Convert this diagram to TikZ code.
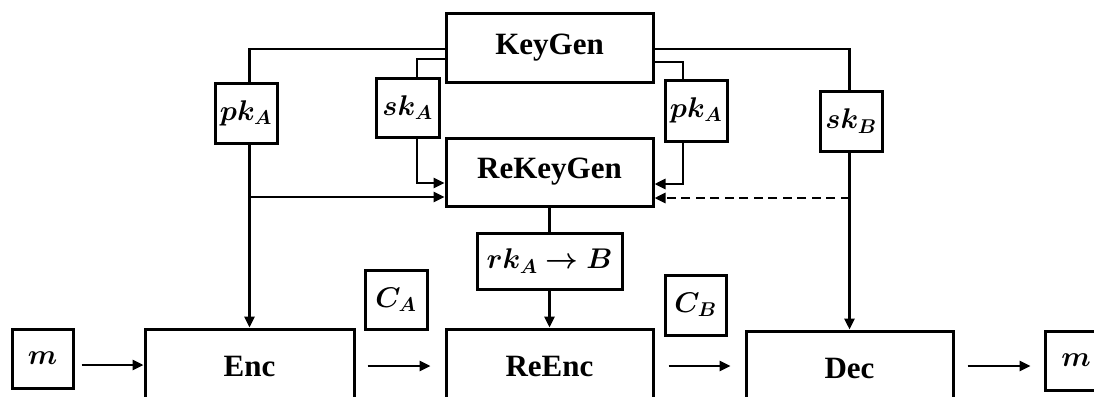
\documentclass[tikz,border=0pt]{standalone}
\usepackage{fix-cm}
\usepackage{bm}
\usepackage{fontspec}
\setmainfont{Liberation Serif}
\usetikzlibrary{arrows.meta}

\begin{document}
\begin{tikzpicture}[x=1pt,y=-1pt,
  box/.style={draw, line width=3pt, inner sep=0pt, fill=white},
  lbl/.style={font=\fontsize{31}{35}\selectfont\bfseries},
  key/.style={box, font=\fontsize{28.5}{32}\selectfont},
  wire/.style={line width=2.6pt},
  arr/.style={wire, -{Triangle[length=11pt,width=10pt]}},
  dashwire/.style={dash pattern=on 9pt off 5.5pt},
]
\useasboundingbox (0,0) rectangle (1094,396);
\clip (0,0) rectangle (1094,396);

% key generation blocks
\node[box,lbl,minimum width=207pt,minimum height=68pt] (kg)  at (549.5,48)  {KeyGen};
\node[box,lbl,minimum width=207pt,minimum height=68pt] (rkg) at (549.5,172) {ReKeyGen};

% key labels
\node[key,minimum width=62pt,minimum height=60pt] (pka)  at (246,113)    {$\bm{pk_A}$};
\node[key,minimum width=63pt,minimum height=59pt] (ska)  at (407.5,107.5) {$\bm{sk_A}$};
\node[key,minimum width=62pt,minimum height=61pt] (pka2) at (696,110.5)  {$\bm{pk_A}$};
\node[key,minimum width=62pt,minimum height=60pt] (skb)  at (851,121)    {$\bm{sk_B}$};
\node[key,minimum width=145pt,minimum height=56pt] (rk)  at (549.5,261)  {$\bm{rk_A\rightarrow B}$};

% ciphertext labels
\node[key,minimum width=62pt,minimum height=59pt] (ca) at (396,299.5) {$\bm{C_A}$};
\node[key,minimum width=61pt,minimum height=60pt] (cb) at (695.5,305) {$\bm{C_B}$};

% encryption pipeline
\node[box,lbl,minimum width=209pt,minimum height=75pt] (enc)   at (249.5,366.5) {Enc};
\node[box,lbl,minimum width=207pt,minimum height=75pt] (reenc) at (549.5,366.5) {ReEnc};
\node[box,lbl,minimum width=207pt,minimum height=74pt] (dec)   at (849.5,368)   {Dec};
\node[key,minimum width=61pt,minimum height=59pt] (m1) at (42.5,358.5) {$\bm{m}$};
\node[key,minimum width=62pt,minimum height=59pt] (m2) at (1076,360.5) {$\bm{m}$};

% pk_A to Enc and ReKeyGen
\draw[wire] (kg.west |- 0,49) -| (enc.north |- pka.north);
\draw[arr] (enc.north |- pka.south) -- (enc.north);
\coordinate (tapA) at (enc.north |- 0,197);
\draw[arr] (tapA) -- (tapA -| rkg.west);

% sk_A to ReKeyGen
\draw[wire] (kg.west |- 0,59) -| ([xshift=9.5pt]ska.north);
\draw[arr] ([xshift=9.5pt]ska.south) |- (rkg.west |- 0,183);

% pk_A (right) to ReKeyGen
\draw[wire] (kg.east |- 0,62) -| ([xshift=-13pt]pka2.north);
\draw[arr] ([xshift=-13pt]pka2.south) |- (rkg.east |- 0,184);

% sk_B to Dec, optional branch to ReKeyGen
\draw[wire] (kg.east |- 0,49) -| (dec.north |- skb.north);
\draw[arr] (dec.north |- skb.south) -- (dec.north);
\coordinate (tapB) at (dec.north |- 0,198);
\draw[arr,dashwire] (tapB) -- (tapB -| rkg.east);

% re-encryption key
\draw[wire] (rkg.south) -- (rk.north);
\draw[arr] (rk.south) -- (reenc.north);

% message flow
\draw[arr, shorten <=7pt] (m1.east |- 0,365) -- (enc.west |- 0,365);
\draw[arr, shorten <=12pt, shorten >=14pt] (enc.east |- 0,366) -- (reenc.west |- 0,366);
\draw[arr, shorten <=14pt, shorten >=14pt] (reenc.east |- 0,366) -- (dec.west |- 0,366);
\draw[arr, shorten <=13pt, shorten >=13pt] (dec.east |- 0,366) -- (m2.west |- 0,366);
\end{tikzpicture}
\end{document}
